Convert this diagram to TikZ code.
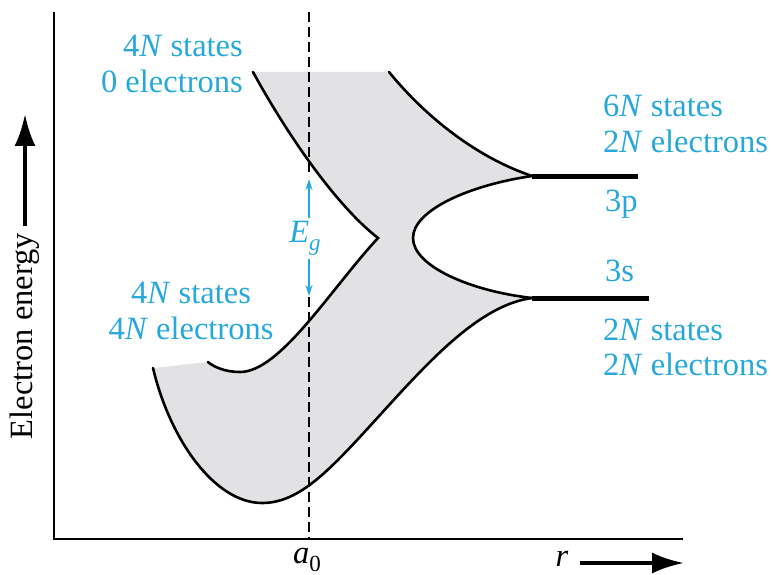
\documentclass[tikz,border=0pt]{standalone}
\usepackage{fontspec}
\setmainfont{Liberation Serif}
\usetikzlibrary{arrows.meta}
\definecolor{lblc}{RGB}{38,168,220}
\definecolor{bandc}{RGB}{226,226,229}
\newcommand{\mysub}[1]{\raisebox{-0.25em}{\fontsize{23}{23}\selectfont #1}}
\begin{document}
\begin{tikzpicture}[x=1pt,y=-1pt,
  lbl/.style={text=lblc, font=\fontsize{32.5}{36}\selectfont, inner sep=0pt},
  blk/.style={font=\fontsize{32.5}{36}\selectfont, inner sep=0pt},
  edge/.style={line width=2.6pt, line join=round, line cap=round},
  bar/.style={line width=5pt},
  axis/.style={line width=1.5pt},
  guide/.style={line width=1.2pt, dash pattern=on 10pt off 5pt},
  egarrow/.style={lblc, line width=1.6pt, -{Stealth[length=11pt,width=7pt]}},
  bigarrow/.style={line width=4pt, -{Latex[length=32pt,width=21pt]}}]
\useasboundingbox (0,0) rectangle (771,575);
% key points
\coordinate (A) at (253,72);
\coordinate (B) at (389,72);
\coordinate (P) at (532,176);
\coordinate (Pe) at (638,176);
\coordinate (S) at (532,298);
\coordinate (Se) at (649,298);
\coordinate (N) at (413,238);
\coordinate (K) at (378,238);
\coordinate (M) at (240,372);
\coordinate (L) at (208,362);
\coordinate (Q) at (153,368);
\coordinate (R) at (262,503);
\coordinate (T) at (380,415);
% band fill
\fill[bandc] (A) -- (B) .. controls (420,110) and (470,155) .. (P)
  .. controls (470,185) and (413,210) .. (N)
  .. controls (413,266) and (470,291) .. (S)
  .. controls (480,305) and (430,360) .. (T)
  .. controls (330,470) and (300,503) .. (R)
  .. controls (215,503) and (170,440) .. (Q)
  -- (L)
  .. controls (214,367) and (225,372) .. (M)
  .. controls (280,372) and (330,290) .. (K)
  .. controls (333,203) and (283,127) .. (A) -- cycle;
% guide line at a0
\coordinate (D0) at (309,12);
\coordinate (D1) at (309,177);
\coordinate (D2) at (309,297);
\coordinate (D3) at (309,539);
\draw[guide] (D0) -- (D1);
\draw[guide] (D2) -- (D3);
% band edges
\draw[edge] (B) .. controls (420,110) and (470,155) .. (P);
\draw[edge] (P) .. controls (470,185) and (413,210) .. (N)
  .. controls (413,266) and (470,291) .. (S);
\draw[edge] (S) .. controls (480,305) and (430,360) .. (T)
  .. controls (330,470) and (300,503) .. (R)
  .. controls (215,503) and (170,440) .. (Q);
\draw[edge, line join=miter] (L) .. controls (214,367) and (225,372) .. (M)
  .. controls (280,372) and (330,290) .. (K)
  .. controls (333,203) and (283,127) .. (A);
\draw[bar] (P) -- (Pe);
\draw[bar] (S) -- (Se);
% axes
\coordinate (O) at (54,539);
\coordinate (Yt) at (54,12);
\coordinate (Xe) at (683,539);
\draw[axis] (Yt) -- (O) -- (Xe);
% energy gap
\node[lbl, anchor=center] (Eg) at (305,238) {\itshape E\mysub{g}};
\coordinate (U1) at (309,218);
\coordinate (U2) at (309,179);
\coordinate (W1) at (309,259);
\coordinate (W2) at (309,296);
\draw[egarrow] (U1) -- (U2);
\draw[egarrow] (W1) -- (W2);
% axis labels
\node[blk, rotate=90, anchor=center] (yl) at (25,336) {Electron energy};
\coordinate (Ya) at (25,226);
\coordinate (Yb) at (25,114);
\draw[bigarrow] (Ya) -- (Yb);
\node[blk, anchor=base] (a0) at (307,563) {\itshape a\mysub{\upshape 0}};
\node[blk, anchor=base] (rl) at (562,566) {\itshape r};
\coordinate (Ra) at (580,563);
\coordinate (Rb) at (684,563);
\draw[bigarrow] (Ra) -- (Rb);
% state labels
\node[lbl, anchor=base east] (t1) at (243,57) {4\textit{N} states};
\node[lbl, anchor=base east] (t2) at (243,93) {0 electrons};
\node[lbl, anchor=base] (m1) at (191,303) {4\textit{N} states};
\node[lbl, anchor=base] (m2) at (191,339) {4\textit{N} electrons};
\node[lbl, anchor=base west] (r1) at (603,117) {6\textit{N} states};
\node[lbl, anchor=base west] (r2) at (603,153) {2\textit{N} electrons};
\node[lbl, anchor=base west] (p3) at (605,211) {3p};
\node[lbl, anchor=base west] (s3) at (605,281) {3s};
\node[lbl, anchor=base west] (r3) at (603,340) {2\textit{N} states};
\node[lbl, anchor=base west] (r4) at (603,375) {2\textit{N} electrons};
\end{tikzpicture}
\end{document}
